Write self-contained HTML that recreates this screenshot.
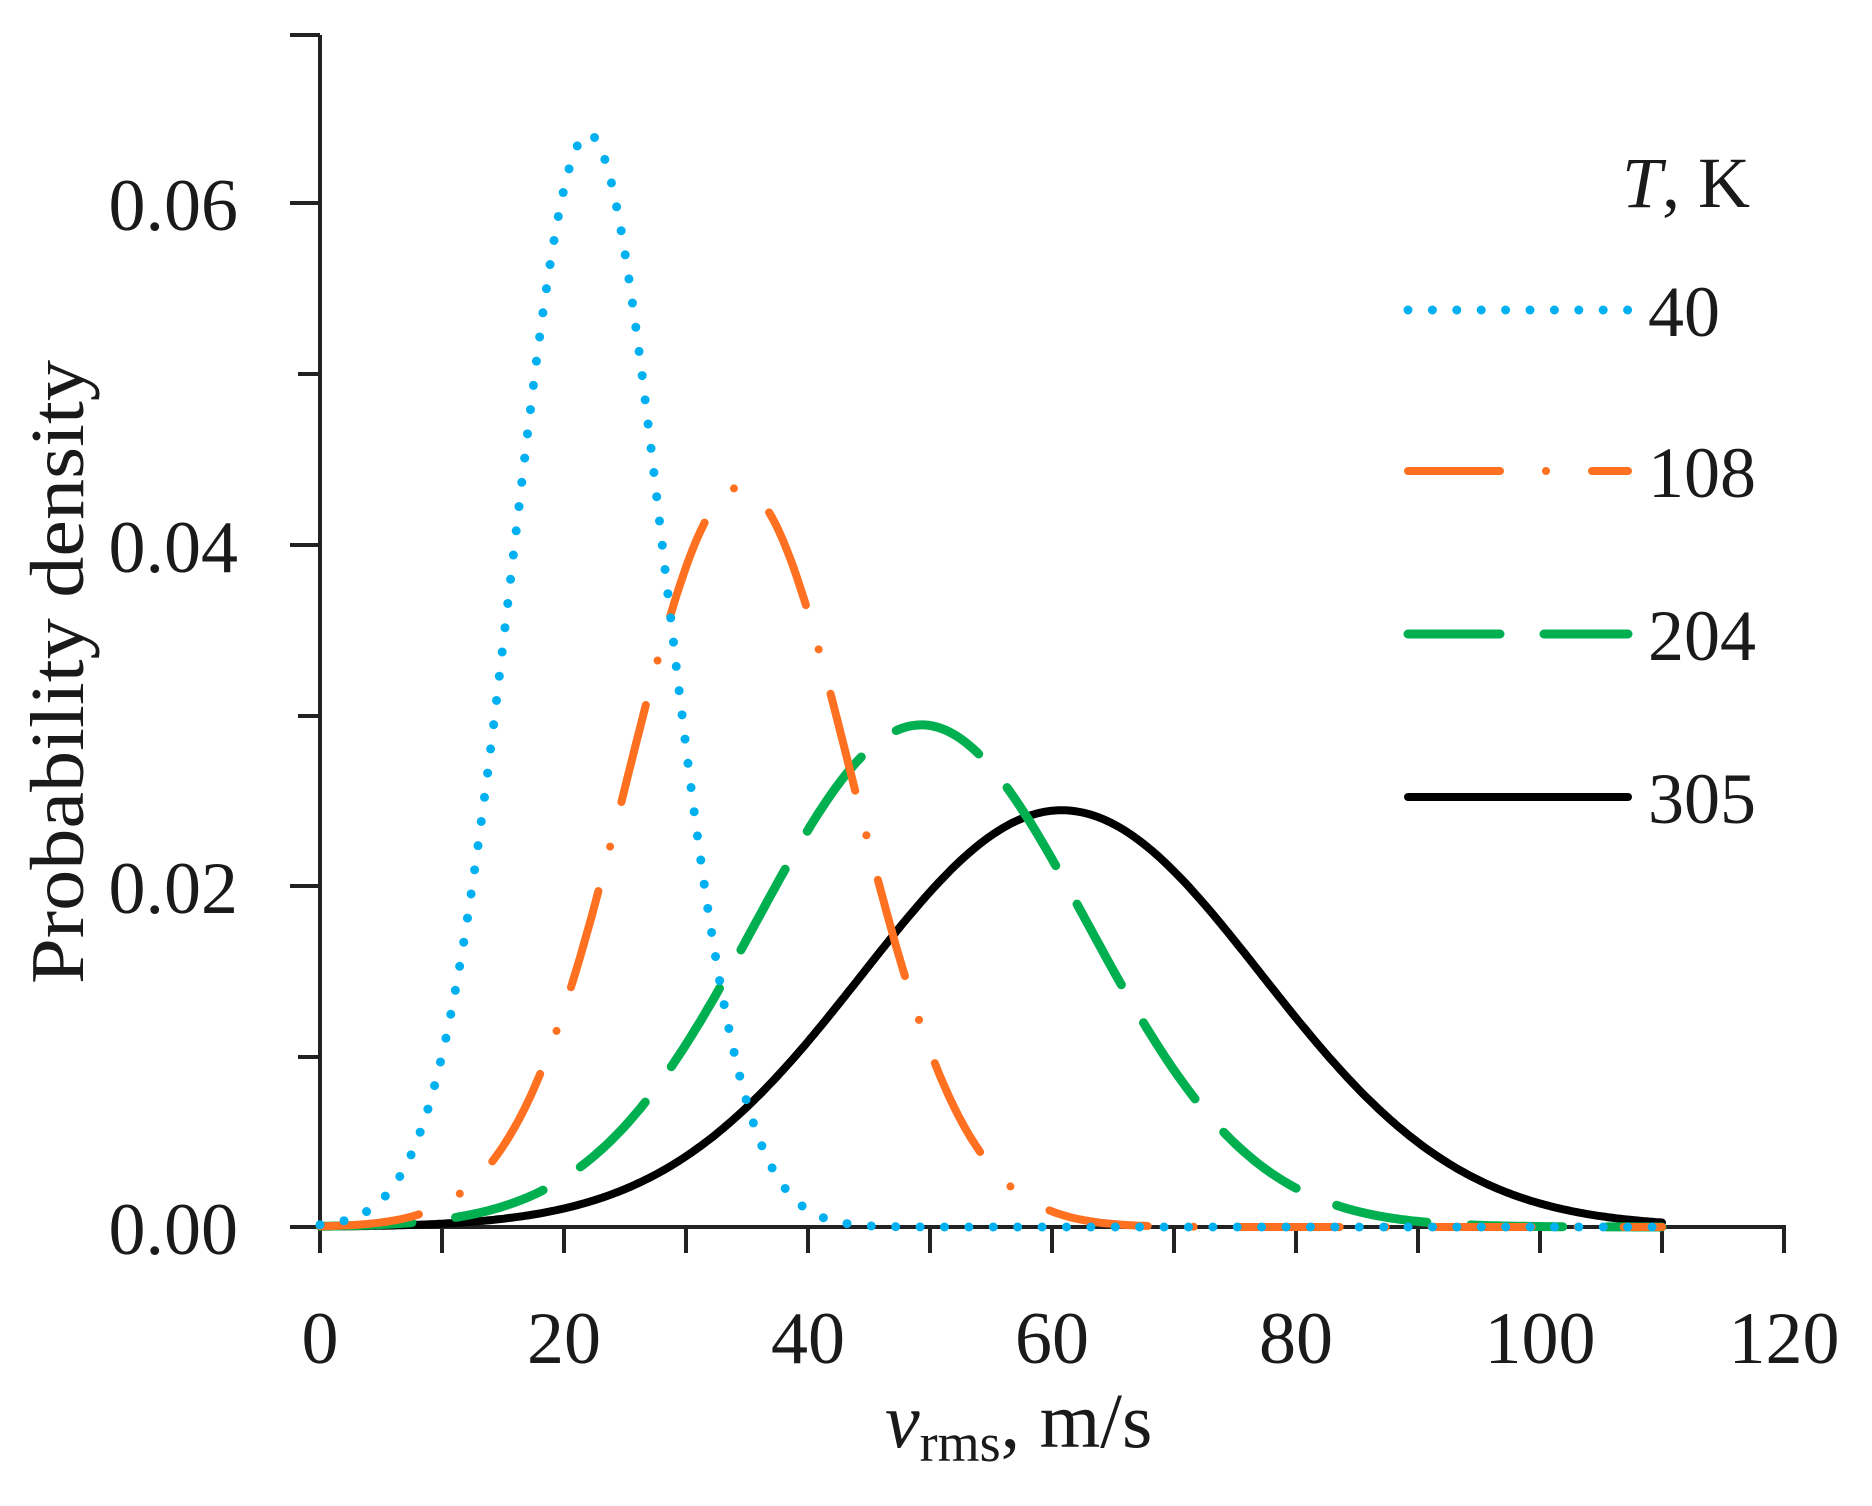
<!DOCTYPE html>
<html><head><meta charset="utf-8"><style>
html,body{margin:0;padding:0;background:#fff;}
svg{display:block;}
text{font-family:"Liberation Serif",serif;fill:#1a1a1a;}
</style></head><body>
<svg id="s" width="1872" height="1506" viewBox="0 0 1872 1506" xmlns="http://www.w3.org/2000/svg">
<g stroke="#222" stroke-width="4" fill="none">
<line x1="320" y1="35" x2="320" y2="1227"/>
<line x1="290" y1="1227" x2="1786" y2="1227"/>
<line x1="290" y1="35" x2="320" y2="35"/>
<line x1="290" y1="203" x2="320" y2="203"/>
<line x1="290" y1="545" x2="320" y2="545"/>
<line x1="290" y1="886" x2="320" y2="886"/>
<line x1="298" y1="374" x2="320" y2="374"/>
<line x1="298" y1="716" x2="320" y2="716"/>
<line x1="298" y1="1057" x2="320" y2="1057"/>
<g id="xt"></g>
</g>
<g font-size="74" text-anchor="end">
<text x="238" y="230">0.06</text>
<text x="238" y="572">0.04</text>
<text x="238" y="913">0.02</text>
<text x="238" y="1254">0.00</text>
</g>
<g font-size="74" text-anchor="middle" id="xl"></g>
<text transform="translate(83,672) rotate(-90)" font-size="76" text-anchor="middle" textLength="624" lengthAdjust="spacingAndGlyphs">Probability density</text>
<text x="885" y="1447" font-size="78"><tspan font-style="italic">v</tspan><tspan font-size="54" dy="14">rms</tspan><tspan dy="-14">, m/s</tspan></text>
<g id="curves" fill="none" stroke-linecap="round" stroke-linejoin="round"></g>
<text x="1622" y="207" font-size="72"><tspan font-style="italic">T</tspan>, K</text>
<g stroke-linecap="round" fill="none">
<line x1="1408" y1="310" x2="1628" y2="310" stroke="#00b0f0" stroke-width="9" stroke-dasharray="0 24.4"/>
<line x1="1408" y1="471" x2="1628" y2="471" stroke="#ff7020" stroke-width="8" stroke-dasharray="92 46 0 46"/>
<line x1="1408" y1="634" x2="1628" y2="634" stroke="#00b050" stroke-width="9" stroke-dasharray="92 44"/>
<line x1="1408" y1="797" x2="1628" y2="797" stroke="#000" stroke-width="8"/>
</g>
<g font-size="72">
<text x="1648" y="336">40</text>
<text x="1648" y="497">108</text>
<text x="1648" y="660">204</text>
<text x="1648" y="823">305</text>
</g>
</svg>
<script>
var NS="http://www.w3.org/2000/svg";
function X(v){return 320+v*12.2;}
function Y(p){return 1227-p*17080;}
var xt=document.getElementById('xt'),xl=document.getElementById('xl');
for(var i=0;i<=12;i++){
 var l=document.createElementNS(NS,'line');
 l.setAttribute('x1',X(i*10));l.setAttribute('x2',X(i*10));
 l.setAttribute('y1',1227);l.setAttribute('y2',1253);xt.appendChild(l);
 if(i%2==0){var t=document.createElementNS(NS,'text');t.setAttribute('x',X(i*10));t.setAttribute('y',1363);t.textContent=String(i*10);xl.appendChild(t);}
}
var series=[
 {mu:60.8,pk:0.0244,c:"#000",w:8,d:""},
 {mu:49.3,pk:0.0294,c:"#00b050",w:9,d:"92 44"},
 {mu:34.4,pk:0.0433,c:"#ff7020",w:8,d:"100 46 0 46"},
 {mu:22.0,pk:0.0640,c:"#00b0f0",w:9,d:"0 24.4"}
];
var g=document.getElementById('curves');
series.forEach(function(s){
 var sig=1/(s.pk*Math.sqrt(2*Math.PI));var pts=[];
 for(var v=0;v<=110.001;v+=0.25){var p=s.pk*Math.exp(-(v-s.mu)*(v-s.mu)/(2*sig*sig));pts.push(X(v).toFixed(1)+","+Y(p).toFixed(1));}
 var pa=document.createElementNS(NS,'path');pa.setAttribute('d',"M"+pts.join(" L"));
 pa.setAttribute('stroke',s.c);pa.setAttribute('stroke-width',s.w);if(s.d)pa.setAttribute('stroke-dasharray',s.d);
 g.appendChild(pa);
});
</script>
</body></html>
